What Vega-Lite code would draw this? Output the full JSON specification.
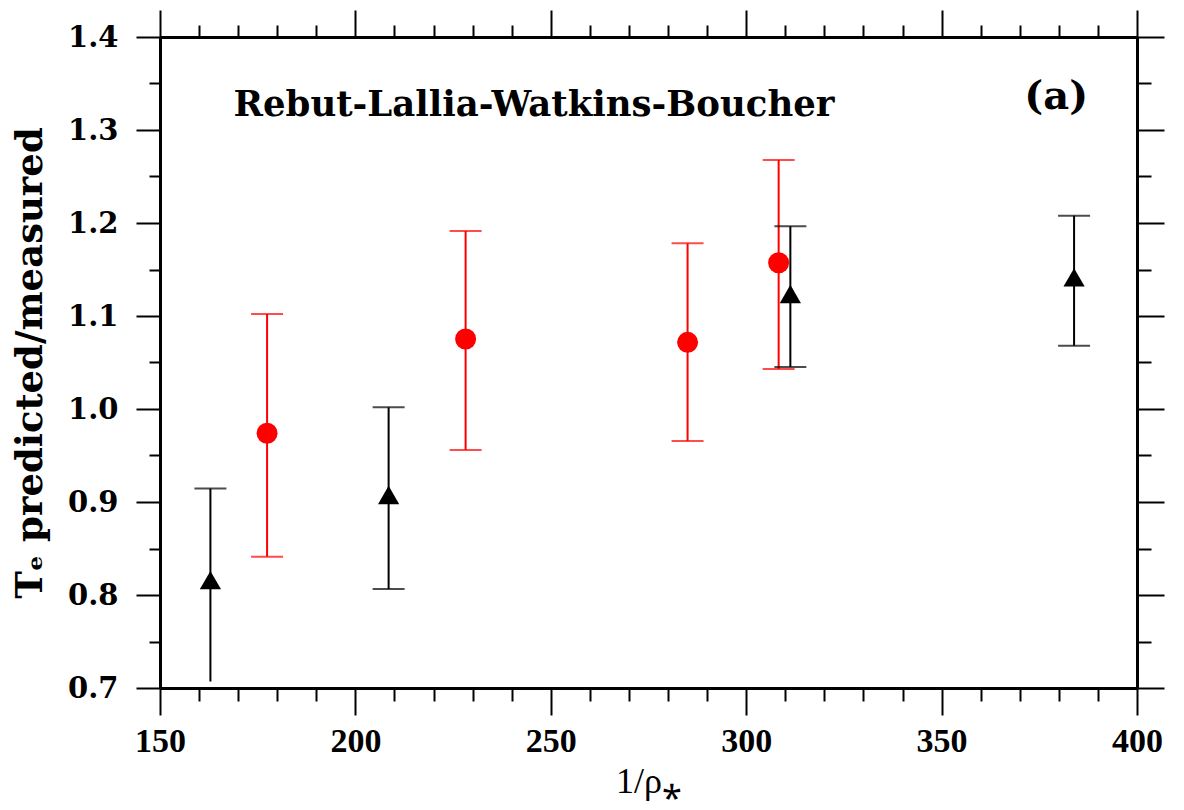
{
  "$schema": "https://vega.github.io/schema/vega-lite/v6.json",
  "width": 977,
  "height": 651,
  "autosize": {"type": "none"},
  "padding": {"left": 160, "top": 37, "right": 47, "bottom": 122},
  "background": "white",
  "config": {"view": {"stroke": null}, "axis": {"grid": false, "tickColor": "black", "domainColor": "black", "labelColor": "black", "titleColor": "black"}},
  "datasets": {
    "pts": [
      {"series": "black", "x": 162.9, "y": 0.816, "lo": 0.707, "hi": 0.9145},
      {"series": "black", "x": 208.5, "y": 0.9075, "lo": 0.8065, "hi": 1.0018},
      {"series": "black", "x": 311.3, "y": 1.1237, "lo": 1.0452, "hi": 1.1965},
      {"series": "black", "x": 383.9, "y": 1.1416, "lo": 1.0681, "hi": 1.2078},
      {"series": "red", "x": 177.4, "y": 0.9739, "lo": 0.8412, "hi": 1.1022},
      {"series": "red", "x": 228.2, "y": 1.0753, "lo": 0.9559, "hi": 1.1914},
      {"series": "red", "x": 285.0, "y": 1.0717, "lo": 0.9656, "hi": 1.1782},
      {"series": "red", "x": 308.3, "y": 1.1573, "lo": 1.043, "hi": 1.2677}
    ],
    "caps": [
      {"series": "black", "x": 162.9, "y": 0.9145},
      {"series": "black", "x": 208.5, "y": 1.0018},
      {"series": "black", "x": 208.5, "y": 0.8065},
      {"series": "black", "x": 311.3, "y": 1.1965},
      {"series": "black", "x": 311.3, "y": 1.0452},
      {"series": "black", "x": 383.9, "y": 1.2078},
      {"series": "black", "x": 383.9, "y": 1.0681},
      {"series": "red", "x": 177.4, "y": 1.1022},
      {"series": "red", "x": 177.4, "y": 0.8412},
      {"series": "red", "x": 228.2, "y": 1.1914},
      {"series": "red", "x": 228.2, "y": 0.9559},
      {"series": "red", "x": 285.0, "y": 1.1782},
      {"series": "red", "x": 285.0, "y": 0.9656},
      {"series": "red", "x": 308.3, "y": 1.2677},
      {"series": "red", "x": 308.3, "y": 1.043}
    ],
    "notes": [
      {"kind": "left", "x": 168.8, "y": 1.315, "text": "Rebut-Lallia-Watkins-Boucher"},
      {"kind": "right", "x": 387.5, "y": 1.323, "text": "(a)"}
    ]
  },
  "layer": [
    {
      "data": {"name": "pts"},
      "mark": {"type": "rule", "strokeWidth": 2},
      "encoding": {
        "x": {"field": "x", "type": "quantitative", "scale": {"domain": [150, 400], "nice": false, "zero": false},
          "axis": {"orient": "bottom", "values": [150, 200, 250, 300, 350, 400], "tickSize": 27, "tickWidth": 2, "domain": true, "domainWidth": 3, "labelFont": "Liberation Serif", "labelFontWeight": "bold", "labelFontSize": 34, "labelPadding": 9, "labelFlush": false, "title": "1/ρ⁎", "titleFont": "Liberation Serif", "titleFontWeight": "normal", "titleFontSize": 36, "titlePadding": 6}},
        "y": {"field": "lo", "type": "quantitative", "scale": {"domain": [0.7, 1.4], "nice": false, "zero": false},
          "axis": {"orient": "left", "values": [0.7, 0.8, 0.9, 1.0, 1.1, 1.2, 1.3, 1.4], "format": ".1f", "tickSize": 24, "tickWidth": 2, "domain": true, "domainWidth": 3, "labelFont": "DejaVu Serif", "labelFontWeight": "bold", "labelFontSize": 29, "labelPadding": 18, "labelFlush": false, "title": "Tₑ predicted/measured", "titleFont": "DejaVu Serif", "titleFontWeight": "bold", "titleFontSize": 37, "titlePadding": 18}},
        "y2": {"field": "hi"},
        "color": {"field": "series", "type": "nominal", "scale": {"domain": ["red", "black"], "range": ["#ff0000", "#000000"]}, "legend": null}
      }
    },
    {
      "data": {"name": "caps"},
      "mark": {"type": "tick", "orient": "horizontal", "size": 32, "thickness": 2},
      "encoding": {
        "x": {"field": "x", "type": "quantitative", "scale": {"domain": [150, 400], "nice": false, "zero": false},
          "axis": {"orient": "bottom", "values": [160, 170, 180, 190, 210, 220, 230, 240, 260, 270, 280, 290, 310, 320, 330, 340, 360, 370, 380, 390], "tickSize": 13, "tickWidth": 2, "domain": false, "labels": false, "title": null}},
        "y": {"field": "y", "type": "quantitative", "scale": {"domain": [0.7, 1.4], "nice": false, "zero": false},
          "axis": {"orient": "left", "values": [0.75, 0.85, 0.95, 1.05, 1.15, 1.25, 1.35], "tickSize": 11, "tickWidth": 2, "domain": false, "labels": false, "title": null}},
        "color": {"field": "series", "type": "nominal", "scale": {"domain": ["red", "black"], "range": ["#ff0000", "#000000"]}, "legend": null}
      }
    },
    {
      "data": {"name": "pts"},
      "transform": [{"filter": "datum.series === 'red'"}],
      "mark": {"type": "point", "shape": "circle", "filled": true, "size": 441, "opacity": 1},
      "encoding": {
        "x": {"field": "x", "type": "quantitative", "scale": {"domain": [150, 400], "nice": false, "zero": false},
          "axis": {"orient": "top", "values": [150, 200, 250, 300, 350, 400], "tickSize": 27, "tickWidth": 2, "domain": true, "domainWidth": 3, "labels": false, "title": null}},
        "y": {"field": "y", "type": "quantitative", "scale": {"domain": [0.7, 1.4], "nice": false, "zero": false},
          "axis": {"orient": "right", "values": [0.7, 0.8, 0.9, 1.0, 1.1, 1.2, 1.3, 1.4], "tickSize": 27, "tickWidth": 2, "domain": true, "domainWidth": 3, "labels": false, "title": null}},
        "color": {"field": "series", "type": "nominal", "scale": {"domain": ["red", "black"], "range": ["#ff0000", "#000000"]}, "legend": null}
      }
    },
    {
      "data": {"name": "pts"},
      "transform": [{"filter": "datum.series === 'black'"}],
      "mark": {"type": "point", "shape": "triangle-up", "filled": true, "size": 450, "opacity": 1},
      "encoding": {
        "x": {"field": "x", "type": "quantitative", "scale": {"domain": [150, 400], "nice": false, "zero": false},
          "axis": {"orient": "top", "values": [160, 170, 180, 190, 210, 220, 230, 240, 260, 270, 280, 290, 310, 320, 330, 340, 360, 370, 380, 390], "tickSize": 12, "tickWidth": 2, "domain": false, "labels": false, "title": null}},
        "y": {"field": "y", "type": "quantitative", "scale": {"domain": [0.7, 1.4], "nice": false, "zero": false},
          "axis": {"orient": "right", "values": [0.75, 0.85, 0.95, 1.05, 1.15, 1.25, 1.35], "tickSize": 14, "tickWidth": 2, "domain": false, "labels": false, "title": null}},
        "color": {"field": "series", "type": "nominal", "scale": {"domain": ["red", "black"], "range": ["#ff0000", "#000000"]}, "legend": null}
      }
    },
    {
      "data": {"name": "notes"},
      "transform": [{"filter": "datum.kind === 'left'"}],
      "mark": {"type": "text", "align": "left", "baseline": "alphabetic", "font": "DejaVu Serif", "fontWeight": "bold", "fontSize": 35.5, "color": "black"},
      "encoding": {
        "x": {"field": "x", "type": "quantitative", "scale": {"domain": [150, 400], "nice": false, "zero": false}, "axis": null},
        "y": {"field": "y", "type": "quantitative", "scale": {"domain": [0.7, 1.4], "nice": false, "zero": false}, "axis": null},
        "text": {"field": "text", "type": "nominal"}
      }
    },
    {
      "data": {"name": "notes"},
      "transform": [{"filter": "datum.kind === 'right'"}],
      "mark": {"type": "text", "align": "right", "baseline": "alphabetic", "font": "DejaVu Serif", "fontWeight": "bold", "fontSize": 40, "color": "black"},
      "encoding": {
        "x": {"field": "x", "type": "quantitative", "scale": {"domain": [150, 400], "nice": false, "zero": false}, "axis": null},
        "y": {"field": "y", "type": "quantitative", "scale": {"domain": [0.7, 1.4], "nice": false, "zero": false}, "axis": null},
        "text": {"field": "text", "type": "nominal"}
      }
    }
  ],
  "resolve": {"axis": {"x": "independent", "y": "independent"}}
}
